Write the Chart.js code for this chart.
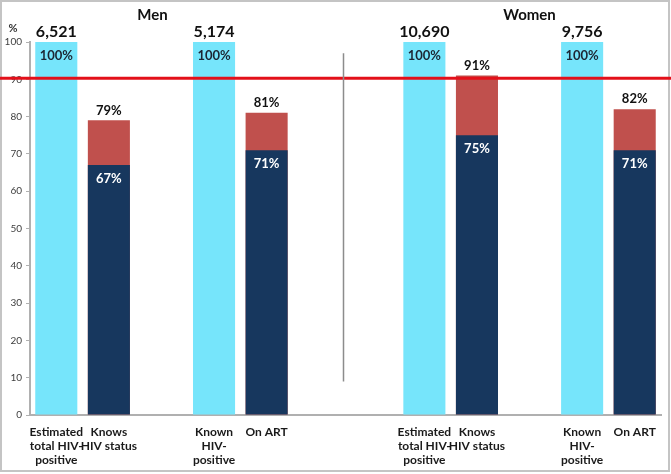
<!DOCTYPE html>
<html>
<head>
<meta charset="utf-8">
<script src="https://cdn.jsdelivr.net/npm/chart.js@4/dist/chart.umd.min.js"></script>
<style>
  html, body { margin: 0; padding: 0; background: #fff; }
  #wrap { width: 671px; height: 474px; position: relative; }
</style>
</head>
<body>
<div id="wrap"><canvas id="hivChart"></canvas></div>
<script>
// =========================
// データ
// =========================
const categories = [
  ["Estimated", "total HIV-", "positive"], ["Knows", "HIV status"], "",
  ["Known", "HIV-", "positive"], ["On ART"], "", "",
  ["Estimated", "total HIV-", "positive"], ["Knows", "HIV status"], "",
  ["Known", "HIV-", "positive"], ["On ART"]
];

// 水色：母数 = 100%
const totalPct = [100, null, null, 100, null, null, null, 100, null, null, 100, null];
// 赤：上段（全体の割合）
const topPct = [null, 79, null, null, 81, null, null, null, 91, null, null, 82];
// 紺：下段
const basePct = [null, 67, null, null, 71, null, null, null, 75, null, null, 71];

const countLabels = ["6,521", "", "", "5,174", "", "", "", "10,690", "", "", "9,756", ""];
const groupTitles = ["Men", "Women"];
const targetPct = 90;

const FONT = "Lato, 'Open Sans', 'Liberation Sans', sans-serif";

// =========================
// 文字・線の描画
// =========================
const decorPlugin = {
  id: "decor",
  beforeDraw(chart) {
    const ctx = chart.ctx;
    ctx.save();
    ctx.strokeStyle = "#c4c4c4";
    ctx.lineWidth = 2;
    ctx.strokeRect(1, 1, 668, 470);
    ctx.restore();
  },
  afterDatasetsDraw(chart) {
    const ctx = chart.ctx;
    const x = chart.scales.x;
    const y = chart.scales.y;
    const metaTotal = chart.getDatasetMeta(0);
    const metaTop = chart.getDatasetMeta(1);
    const metaBase = chart.getDatasetMeta(2);

    ctx.save();
    ctx.textAlign = "center";
    ctx.textBaseline = "middle";

    // 水色バー：人数と100%
    totalPct.forEach((v, i) => {
      if (v == null) return;
      const bar = metaTotal.data[i];
      ctx.fillStyle = "#111";
      ctx.font = "bold 16px " + FONT;
      ctx.fillText(countLabels[i], bar.x, bar.y - 10);
      ctx.fillStyle = "#1c2633";
      ctx.font = "bold 13px " + FONT;
      ctx.fillText(v + "%", bar.x, bar.y + 14);
    });

    // 赤バー上のラベル
    topPct.forEach((v, i) => {
      if (v == null) return;
      const bar = metaTop.data[i];
      ctx.fillStyle = "#111";
      ctx.font = "bold 13px " + FONT;
      ctx.fillText(v + "%", bar.x, bar.y - 10);
    });

    // 紺バー内のラベル
    basePct.forEach((v, i) => {
      if (v == null) return;
      const bar = metaBase.data[i];
      ctx.fillStyle = "#fff";
      ctx.font = "bold 13px " + FONT;
      ctx.fillText(v + "%", bar.x, bar.y + 14);
    });

    // 目標線 90%
    const ty = y.getPixelForValue(targetPct + 0.3);
    ctx.strokeStyle = "#e3101a";
    ctx.lineWidth = 3;
    ctx.beginPath();
    ctx.moveTo(y.left - 5, ty);
    ctx.lineTo(chart.width, ty);
    ctx.stroke();

    // 男女の区切り線
    const dx = Math.round(x.getPixelForValue(5.45)) + 0.5;
    ctx.strokeStyle = "#8c8c8c";
    ctx.lineWidth = 1.5;
    ctx.beginPath();
    ctx.moveTo(dx, y.getPixelForValue(97));
    ctx.lineTo(dx, y.getPixelForValue(9));
    ctx.stroke();

    // グループ見出し
    ctx.fillStyle = "#111";
    ctx.font = "bold 15px " + FONT;
    ctx.fillText(groupTitles[0], x.getPixelForValue(1.83), 15);
    ctx.fillText(groupTitles[1], x.getPixelForValue(9.0), 15);

    // 単位
    ctx.font = "bold 11px " + FONT;
    ctx.fillStyle = "#333";
    ctx.fillText("%", 13, 28);

    ctx.restore();
  }
};

// =========================
// グラフ
// =========================
new Chart(document.getElementById("hivChart"), {
  type: "bar",
  data: {
    labels: categories,
    datasets: [
      { label: "total", data: totalPct, backgroundColor: "#76e5fb", order: 2 },
      { label: "top", data: topPct, backgroundColor: "#c0504d", order: 1 },
      { label: "base", data: basePct, backgroundColor: "#17375e", order: 0 }
    ]
  },
  options: {
    responsive: true,
    maintainAspectRatio: false,
    animation: false,
    layout: { padding: { left: 0, right: 10, top: 42, bottom: 0 } },
    datasets: {
      bar: {
        grouped: false,
        categoryPercentage: 1.0,
        barPercentage: 0.8,
        skipNull: true
      }
    },
    plugins: {
      legend: { display: false },
      tooltip: { enabled: false }
    },
    scales: {
      x: {
        offset: true,
        grid: { display: false, drawTicks: false },
        border: { color: "#b0b0b0", width: 2 },
        ticks: {
          autoSkip: false,
          maxRotation: 0,
          padding: 10,
          color: "#1a1a1a",
          font: { family: FONT, size: 12, weight: "bold", lineHeight: 1.17 }
        },
        afterFit: (s) => { s.height = 59; }
      },
      y: {
        min: 0,
        max: 100,
        ticks: {
          stepSize: 10,
          padding: 4,
          color: "#404040",
          font: { family: FONT, size: 10 }
        },
        grid: {
          drawOnChartArea: false,
          drawTicks: true,
          tickLength: 4,
          color: "#b0b0b0"
        },
        border: { color: "#b0b0b0", width: 2 },
        afterFit: (s) => { s.width = 30; }
      }
    }
  },
  plugins: [decorPlugin]
});
</script>
</body>
</html>
